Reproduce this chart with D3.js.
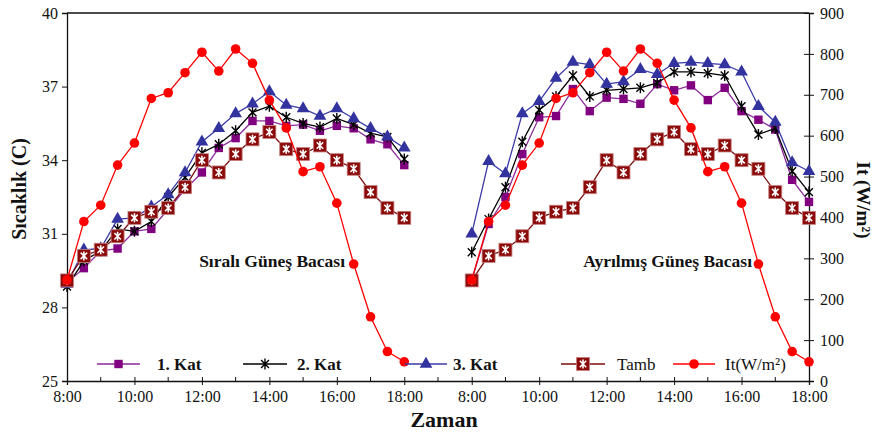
<!DOCTYPE html>
<html>
<head>
<meta charset="utf-8">
<script src="https://cdn.jsdelivr.net/npm/d3@7"></script>
<style>
  body { margin: 0; background: #fff; }
  text { font-family: "Liberation Serif", "Times New Roman", serif; fill: #111; }
</style>
</head>
<body>
<svg id="grafik" width="877" height="436"></svg>
<script>
// Saatler (her iki panel için aynı)
const saatler = ["8:00","8:30","9:00","9:30","10:00","10:30","11:00","11:30","12:00","12:30","13:00",
                 "13:30","14:00","14:30","15:00","15:30","16:00","16:30","17:00","17:30","18:00"];
const eksenEtiketleri = ["8:00","10:00","12:00","14:00","16:00","18:00"];
const sicaklikTikleri = [25, 28, 31, 34, 37, 40];
const isinimTikleri = [0, 100, 200, 300, 400, 500, 600, 700, 800, 900];

// Sıralı güneş bacası (°C)
const kat1Sirali = [29.0, 29.6, 30.3, 30.4, 31.1, 31.2, 32.0, 32.8, 33.5, 34.5, 34.9, 35.6, 35.6, 35.4, 35.45, 35.2, 35.4, 35.3, 34.85, 34.65, 33.8];
const kat2Sirali = [28.85, 29.9, 30.3, 31.2, 31.1, 31.5, 32.5, 33.3, 34.3, 34.65, 35.2, 35.95, 36.2, 35.75, 35.5, 35.35, 35.7, 35.45, 35.1, 34.95, 34.05];
const kat3Sirali = [28.95, 30.35, 30.4, 31.6, 31.65, 32.1, 32.6, 33.5, 34.75, 35.3, 35.9, 36.3, 36.8, 36.25, 36.1, 35.8, 36.1, 35.7, 35.3, 34.95, 34.5];

// Ayrılmış güneş bacası (°C)
const kat1Ayrilmis = [29.1, 31.4, 32.5, 34.25, 35.75, 35.8, 36.9, 36.0, 36.55, 36.5, 36.3, 37.1, 36.85, 37.05, 36.45, 36.95, 36.0, 35.65, 35.25, 33.2, 32.3];
const kat2Ayrilmis = [30.25, 31.6, 32.9, 34.75, 36.05, 36.6, 37.45, 36.6, 36.85, 36.9, 36.95, 37.15, 37.6, 37.6, 37.55, 37.45, 36.2, 35.05, 35.3, 33.55, 32.7];
const kat3Ayrilmis = [31.0, 33.95, 33.45, 35.9, 36.4, 37.35, 38.0, 37.9, 37.1, 37.2, 37.7, 37.5, 37.95, 38.0, 37.95, 37.9, 37.6, 36.2, 35.55, 33.9, 33.55];

// Ortam sıcaklığı (°C) ve güneş ışınımı (W/m2) - iki panelde aynı
const tamb = [29.1, 30.1, 30.35, 30.9, 31.65, 31.9, 32.05, 32.9, 34.0, 33.5, 34.25, 34.85, 35.15, 34.45, 34.25, 34.6, 34.0, 33.65, 32.7, 32.05, 31.65];
const isinim = [247, 390, 430, 528, 582, 691, 705, 754, 804, 758, 812, 777, 687, 619, 512, 524, 435, 286, 157, 72, 47];

const svg = d3.select("#grafik");
const sol = 67, sag = 809, ust = 13, alt = 381;

// x: iki panel tek eksende, sağ panel 12 saat kaydırılmış
const x = d3.scaleLinear().domain([0, 22]).range([sol, sag]);
const yT = d3.scaleLinear().domain([25, 40]).range([alt, ust]);
const yI = d3.scaleLinear().domain([0, 900]).range([alt, ust]);

function saatDegeri(s) {
  const p = s.split(":");
  return +p[0] + (+p[1]) / 60 - 8;
}

// eksenler
const solEksen = svg.append("g").attr("transform", "translate(" + sol + ",0)")
    .call(d3.axisLeft(yT).tickValues(sicaklikTikleri).tickSize(5).tickPadding(4));
const sagEksen = svg.append("g").attr("transform", "translate(" + sag + ",0)")
    .call(d3.axisRight(yI).tickValues(isinimTikleri).tickSize(5).tickPadding(6));
sagEksen.selectAll(".tick line").attr("x1", -5);

const anaTikler = [], anaEtiketler = [];
[0, 12].forEach(off => {
  eksenEtiketleri.forEach(e => { anaTikler.push(off + saatDegeri(e)); anaEtiketler.push(e); });
});
const altEksen = svg.append("g").attr("transform", "translate(0," + alt + ")")
    .call(d3.axisBottom(x).tickValues(anaTikler).tickFormat((d, i) => anaEtiketler[i]).tickSize(4).tickPadding(6));
altEksen.selectAll(".tick line").attr("y1", -4);
// ara tikler
const araTikler = d3.range(1, 22, 2);
altEksen.selectAll(".ara").data(araTikler).enter().append("line")
    .attr("class", "ara").attr("x1", d => x(d)).attr("x2", d => x(d))
    .attr("y1", 0).attr("y2", -4).attr("stroke", "#111");

[solEksen, sagEksen, altEksen].forEach(g => {
  g.select(".domain").attr("stroke", "#111").attr("stroke-width", 1.3);
  g.selectAll(".tick line").attr("stroke", "#111");
  g.selectAll("text").style("font-size", "16px").style("font-family", "Liberation Serif").attr("fill", "#111");
});
svg.append("line").attr("x1", sol).attr("x2", sag).attr("y1", ust).attr("y2", ust)
    .attr("stroke", "#111").attr("stroke-width", 1.3);

// işaretçiler
const yildizYolu = r => "M0," + (-r) + "L0," + r + "M" + (-r * 0.72) + "," + (-r * 0.72) + "L" + (r * 0.72) + "," + (r * 0.72) +
    "M" + (-r * 0.72) + "," + (r * 0.72) + "L" + (r * 0.72) + "," + (-r * 0.72);

function isaretci(g, tur, cx, cy) {
  const m = g.append("g").attr("transform", "translate(" + cx + "," + cy + ")");
  if (tur === "kare") {
    m.append("rect").attr("x", -4.2).attr("y", -4.2).attr("width", 8.4).attr("height", 8.4).attr("fill", "#800080");
  } else if (tur === "yildiz") {
    m.append("path").attr("d", yildizYolu(5.5)).attr("stroke", "#000").attr("stroke-width", 1.4).attr("fill", "none");
  } else if (tur === "ucgen") {
    m.append("path").attr("d", d3.symbol(d3.symbolTriangle, 70)()).attr("fill", "#3333a0");
  } else if (tur === "tamb") {
    m.append("rect").attr("x", -6.5).attr("y", -6.5).attr("width", 13).attr("height", 13)
        .attr("fill", "#8b0a0a").attr("stroke", "#c88080").attr("stroke-width", 0.8);
    m.append("path").attr("d", yildizYolu(4.5)).attr("stroke", "#fff").attr("stroke-width", 1.6).attr("fill", "none");
  } else if (tur === "daire") {
    m.append("circle").attr("r", 4.8).attr("fill", "#ff0000");
  }
}

const seriler = [
  { sol: kat1Sirali, sag: kat1Ayrilmis, renk: "#8b2a9a", tur: "kare", y: yT },
  { sol: kat2Sirali, sag: kat2Ayrilmis, renk: "#000", tur: "yildiz", y: yT },
  { sol: kat3Sirali, sag: kat3Ayrilmis, renk: "#3a3aa8", tur: "ucgen", y: yT },
  { sol: tamb, sag: tamb, renk: "#7a0c0c", tur: "tamb", y: yT },
  { sol: isinim, sag: isinim, renk: "#ff0000", tur: "daire", y: yI }
];

seriler.forEach(s => {
  [[s.sol, 0], [s.sag, 12]].forEach(([degerler, off]) => {
    const noktalar = degerler.map((v, i) => [x(off + saatDegeri(saatler[i])), s.y(v)]);
    const g = svg.append("g");
    g.append("path").attr("d", d3.line()(noktalar))
        .attr("fill", "none").attr("stroke", s.renk).attr("stroke-width", 1.3);
    noktalar.forEach(p => isaretci(g, s.tur, p[0], p[1]));
  });
});

// açıklama
const lejand = [
  { ad: "1. Kat", x1: 97, x2: 140, tx: 157, renk: "#8b2a9a", tur: "kare", kalin: true },
  { ad: "2. Kat", x1: 243, x2: 287, tx: 297, renk: "#000", tur: "yildiz", kalin: true },
  { ad: "3. Kat", x1: 405, x2: 447, tx: 453, renk: "#3a3aa8", tur: "ucgen", kalin: true },
  { ad: "Tamb", x1: 561, x2: 605, tx: 617, renk: "#7a0c0c", tur: "tamb", kalin: false },
  { ad: "It(W/m²)", x1: 673, x2: 715, tx: 725, renk: "#ff0000", tur: "daire", kalin: false }
];
const ly = 364;
lejand.forEach(l => {
  const g = svg.append("g");
  g.append("line").attr("x1", l.x1).attr("x2", l.x2).attr("y1", ly).attr("y2", ly)
      .attr("stroke", l.renk).attr("stroke-width", 1.3);
  isaretci(g, l.tur, (l.x1 + l.x2) / 2, ly);
  g.append("text").attr("x", l.tx).attr("y", ly + 6).text(l.ad)
      .style("font-size", "17px").style("font-weight", l.kalin ? "bold" : "normal");
});

// panel başlıkları
svg.append("text").attr("x", 345).attr("y", 267).attr("text-anchor", "end")
    .style("font-size", "17.5px").style("font-weight", "bold").text("Sıralı Güneş Bacası");
svg.append("text").attr("x", 752).attr("y", 267).attr("text-anchor", "end")
    .style("font-size", "17.5px").style("font-weight", "bold").text("Ayrılmış Güneş Bacası");

// eksen başlıkları
svg.append("text").attr("transform", "translate(26,189) rotate(-90)").attr("text-anchor", "middle")
    .style("font-size", "20px").style("font-weight", "bold").text("Sıcaklık (C)");
svg.append("text").attr("transform", "translate(857,200) rotate(90)").attr("text-anchor", "middle")
    .style("font-size", "19px").style("font-weight", "bold").text("It (W/m²)");
svg.append("text").attr("x", 444).attr("y", 427).attr("text-anchor", "middle")
    .style("font-size", "22px").style("font-weight", "bold").text("Zaman");
</script>
</body>
</html>
